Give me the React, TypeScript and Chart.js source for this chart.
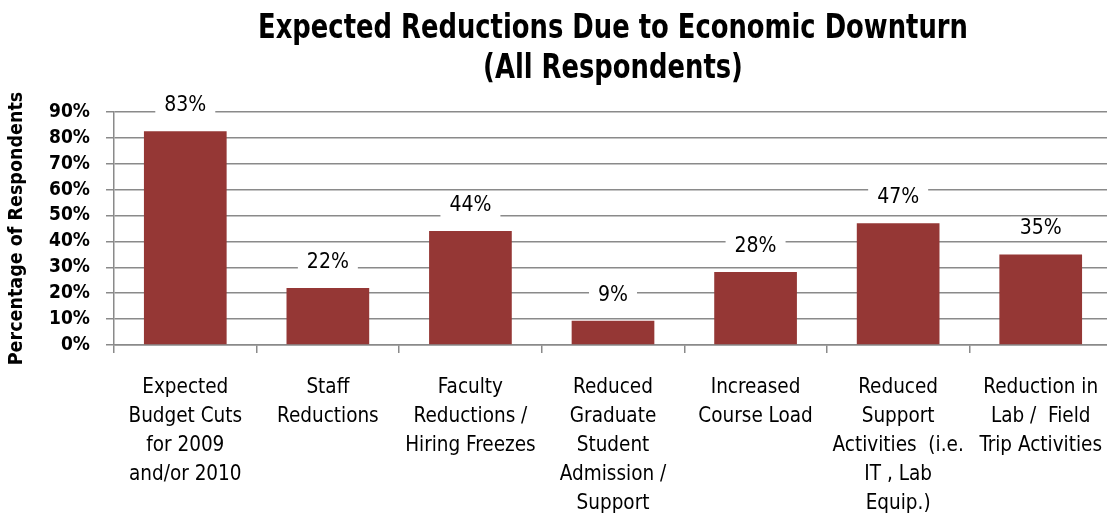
import { useEffect, useRef } from 'react';
import { Chart, registerables } from 'chart.js';

Chart.register(...registerables);

const FONT = "'Liberation Sans Narrow', 'Arial Narrow', 'DejaVu Sans Condensed', sans-serif";

const titleLines = ['Expected Reductions Due to Economic Downturn', '(All Respondents)'];
const yAxisTitle = 'Percentage of Respondents';

const categories: string[][] = [
  ['Expected', 'Budget Cuts', 'for 2009', 'and/or 2010'],
  ['Staff', 'Reductions'],
  ['Faculty', 'Reductions /', 'Hiring Freezes'],
  ['Reduced', 'Graduate', 'Student', 'Admission /', 'Support'],
  ['Increased', 'Course Load'],
  ['Reduced', 'Support', 'Activities  (i.e.', 'IT , Lab', 'Equip.)'],
  ['Reduction in', 'Lab /  Field', 'Trip Activities'],
];

const values = [82.6, 22, 44, 9.4, 28.2, 47, 35];

const yMin = 0;
const yMax = 90;
const yStep = 10;

const BAR = '#953735';
const GRID = '#8a8a8a';

const titlePlugin = {
  id: 'twoLineTitle',
  afterDraw(chart: any) {
    const { ctx, chartArea } = chart;
    ctx.save();
    ctx.font = `bold 33px ${FONT}`;
    ctx.fillStyle = '#000';
    ctx.textAlign = 'center';
    ctx.textBaseline = 'alphabetic';
    const cx = (chartArea.left + chartArea.right) / 2;
    const sx = 0.87;
    ctx.scale(sx, 1);
    titleLines.forEach((t, i) => ctx.fillText(t, cx / sx, 37.5 + i * 40));
    ctx.restore();
  },
};

const dataLabelPlugin = {
  id: 'boxedLabels',
  afterDatasetsDraw(chart: any) {
    const { ctx } = chart;
    const meta = chart.getDatasetMeta(0);
    ctx.save();
    ctx.font = `21px ${FONT}`;
    ctx.textAlign = 'center';
    ctx.textBaseline = 'middle';
    meta.data.forEach((bar: any, i: number) => {
      const txt = Math.round(values[i]) + '%';
      const w = ctx.measureText(txt).width + 18;
      const h = 24;
      const cy = bar.y - 25.5;
      ctx.fillStyle = '#fff';
      ctx.fillRect(bar.x - w / 2, cy - h / 2, w, h);
      ctx.fillStyle = '#000';
      ctx.fillText(txt, bar.x, cy);
    });
    ctx.restore();
  },
};

export default function App() {
  const ref = useRef<HTMLCanvasElement>(null);

  useEffect(() => {
    if (!ref.current) return;
    const chart = new Chart(ref.current, {
      type: 'bar',
      data: {
        labels: categories,
        datasets: [
          {
            data: values,
            backgroundColor: BAR,
            borderWidth: 0,
            barPercentage: 0.58,
            categoryPercentage: 1,
          },
        ],
      },
      options: {
        animation: false,
        responsive: false,
        maintainAspectRatio: false,
        devicePixelRatio: 1,
        layout: { padding: { top: 112, left: 5, right: 0, bottom: 0 } },
        plugins: {
          legend: { display: false },
          title: { display: false },
          tooltip: { enabled: false },
        },
        scales: {
          x: {
            grid: {
              display: true,
              offset: true,
              drawOnChartArea: false,
              drawTicks: true,
              tickLength: 8,
              color: GRID,
              lineWidth: 1.5,
            },
            border: { color: GRID, width: 1.5 },
            ticks: {
              font: { family: FONT, size: 20.5, lineHeight: 1.415 },
              color: '#000',
              padding: 20,
              maxRotation: 0,
              autoSkip: false,
            },
            afterFit(s: any) {
              s.height = 173;
              s.paddingLeft = 0;
              s.paddingRight = 0;
            },
          },
          y: {
            min: yMin,
            max: yMax,
            grid: { color: GRID, lineWidth: 1.5, tickLength: 8 },
            border: { color: GRID, width: 1.5 },
            ticks: {
              stepSize: yStep,
              autoSkip: false,
              font: { family: FONT, size: 19, weight: 'bold' },
              color: '#000',
              padding: 16,
              callback: (v: any) => v + '%',
            },
            title: {
              display: true,
              text: yAxisTitle,
              font: { family: FONT, size: 19.5, weight: 'bold' },
              color: '#000',
              padding: { top: 0, bottom: 0 },
            },
            afterFit(s: any) {
              s.width = 109;
              s.paddingTop = 0;
              s.paddingBottom = 0;
            },
          },
        },
      },
      plugins: [titlePlugin, dataLabelPlugin],
    });
    return () => chart.destroy();
  }, []);

  return (
    <div style={{ position: 'fixed', left: 0, top: 0, width: 1107, height: 518, overflow: 'hidden', background: '#fff' }}>
      <canvas ref={ref} width={1112} height={518} style={{ display: 'block', width: 1112, height: 518 }} />
    </div>
  );
}
